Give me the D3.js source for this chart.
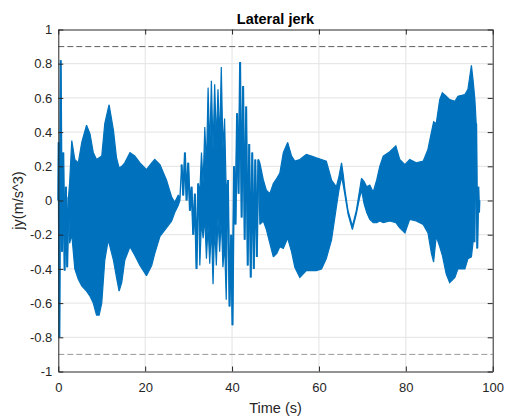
<!DOCTYPE html>
<html>
<head>
<meta charset="utf-8">
<script src="https://cdn.jsdelivr.net/npm/d3@7"></script>
<style>
  body { margin: 0; background: #fff; }
  text { font-family: "Liberation Sans", Arial, Helvetica, sans-serif; }
</style>
</head>
<body>
<svg id="chart" width="505" height="419"></svg>
<script>
// Lateral jerk trace, stored as its envelope over time.
// Where single swings can be told apart, jyMax and jyMin hold the same value
// and the band collapses to a line through those swing extremes.
const time = [
  0.00, 0.08, 0.25, 0.55, 0.85, 1.15, 1.45, 1.75, 2.05, 2.35,
  2.6, 3.1, 3.8, 4.6, 5.4, 6.5, 7.3, 8.05, 8.8, 9.4, 10.0, 10.7, 11.5, 11.7,
  12.7, 13.4, 14.0, 14.6, 15.3, 16.5, 17.6, 18.8, 20.3, 21.5, 22.2, 23.4,
  24.9, 26.1, 26.8, 27.6, 28.0,
  28.38, 28.76, 29.15, 29.53, 29.91, 30.30, 30.68, 31.06, 31.44, 31.82,
  32.20, 32.58, 32.96, 33.34, 33.72, 34.10, 34.48, 34.86, 35.24, 35.62,
  36.00, 36.38, 36.76, 37.14, 37.52, 37.90, 38.28, 38.66, 39.04, 39.42,
  39.80, 40.10, 40.45, 40.80, 41.15, 41.50, 41.85, 42.20, 42.55, 42.90,
  43.25, 43.60, 43.95, 44.30, 44.65, 45.00, 45.35, 45.70, 46.05,
  46.4, 47.2, 47.9, 48.7, 49.5, 50.3, 51.0, 51.8, 52.8, 53.7, 54.45, 55.6,
  57.1, 58.3, 59.4, 60.6, 61.7, 62.9, 64.0, 64.6, 65.2, 65.6, 66.0, 66.7,
  67.7, 68.6, 69.3, 69.8, 70.4, 71.0, 71.7, 72.5, 73.3, 74.0, 74.8, 76.3,
  77.7, 78.6, 79.8, 80.9, 82.4, 84.0, 85.1, 85.9, 86.4, 87.0, 87.8, 88.4,
  89.3, 90.1, 91.3, 92.0, 93.6, 94.3, 95.1, 95.5, 95.9,
  96.2, 96.45, 96.7, 96.85, 96.95
];
const jyMax = [
  0.00, 0.34, -0.80, 0.82, -0.30, 0.28, -0.41, 0.08, -0.39, 0.02,
  0.10, 0.35, 0.24, 0.22, 0.34, 0.44, 0.39, 0.28, 0.24, 0.25, 0.26, 0.45, 0.54, 0.56,
  0.41, 0.25, 0.19, 0.20, 0.22, 0.28, 0.26, 0.22, 0.18, 0.22, 0.24, 0.21,
  0.12, 0.02, -0.01, 0.03, 0.02,
  0.21, 0.03, 0.28, 0.00, 0.22, -0.06, 0.08, -0.20, 0.04, -0.40,
  0.10, 0.05, 0.28, 0.10, 0.43, 0.20, 0.66, 0.30, 0.70, 0.30,
  0.68, 0.35, 0.65, 0.35, 0.78, 0.30, 0.48, 0.05, 0.12, -0.62,
  -0.20, -0.73, 0.20, -0.14, 0.51, 0.04, 0.81, -0.10, 0.67, -0.23,
  0.55, -0.38, 0.33, -0.45, 0.28, -0.40, 0.24, -0.33, 0.24,
  0.22, 0.12, 0.06, 0.04, 0.10, 0.13, 0.16, 0.28, 0.34, 0.26, 0.23, 0.24,
  0.27, 0.26, 0.25, 0.24, 0.23, 0.12, 0.08, 0.14, 0.22, 0.15, 0.06, -0.06,
  -0.15, -0.06, 0.05, 0.13, 0.11, 0.08, 0.09, 0.05, 0.12, 0.20, 0.26, 0.285,
  0.32, 0.24, 0.21, 0.24, 0.22, 0.23, 0.30, 0.40, 0.46, 0.45, 0.59, 0.63,
  0.61, 0.59, 0.58, 0.61, 0.62, 0.65, 0.79, 0.70, 0.59,
  0.45, -0.28, 0.08, -0.07, 0.00
];
const jyMin = [
  0.00, 0.34, -0.80, 0.82, -0.30, 0.28, -0.41, 0.08, -0.39, 0.02,
  -0.25, -0.20, -0.40, -0.46, -0.50, -0.53, -0.56, -0.60, -0.67, -0.67, -0.60, -0.35, -0.23, -0.25,
  -0.35, -0.45, -0.53, -0.48, -0.35, -0.27, -0.32, -0.38, -0.44, -0.38, -0.31, -0.21,
  -0.16, -0.12, -0.07, -0.03, 0.00,
  0.21, 0.03, 0.28, 0.00, 0.22, -0.06, 0.08, -0.20, 0.04, -0.40,
  0.10, -0.38, -0.12, -0.22, -0.10, -0.34, -0.15, -0.37, -0.15, -0.49,
  -0.15, -0.38, -0.10, -0.30, -0.10, -0.39, -0.25, -0.58, 0.12, -0.62,
  -0.20, -0.73, 0.20, -0.14, 0.51, 0.04, 0.81, -0.10, 0.67, -0.23,
  0.55, -0.38, 0.33, -0.45, 0.28, -0.40, 0.24, -0.33, 0.24,
  -0.14, -0.12, -0.17, -0.25, -0.33, -0.31, -0.27, -0.28, -0.22, -0.30, -0.39, -0.45,
  -0.41, -0.41, -0.41, -0.40, -0.34, -0.23, -0.04, 0.06, 0.14, 0.09, 0.03, -0.08,
  -0.17, -0.08, 0.01, 0.06, -0.02, -0.07, -0.11, -0.13, -0.13, -0.12, -0.13, -0.12,
  -0.13, -0.16, -0.19, -0.11, -0.12, -0.14, -0.19, -0.31, -0.36, -0.21, -0.27, -0.32,
  -0.43, -0.48, -0.45, -0.40, -0.40, -0.34, -0.33, -0.24, -0.24,
  0.45, -0.28, 0.08, -0.07, 0.00
];

// Comfort limit drawn as dashed reference lines
const jerkLimit = [0.9, -0.9];

const xTicks = [0, 20, 40, 60, 80, 100];
const yTicks = [-1, -0.8, -0.6, -0.4, -0.2, 0, 0.2, 0.4, 0.6, 0.8, 1];

const svg = d3.select("#chart");
const plotLeft = 58.3, plotRight = 492.7, plotTop = 29.5, plotBottom = 371.5;

const x = d3.scaleLinear().domain([0, 100]).range([plotLeft, plotRight]);
const y = d3.scaleLinear().domain([-1, 1]).range([plotBottom, plotTop]);

const ink = "#262626";
const blue = "#0072BD";
const fmt = d => String(+d.toFixed(1));

// grid
const grid = svg.append("g").attr("stroke", "#e3e3e3").attr("stroke-width", 1);
grid.selectAll(".gx").data(xTicks.slice(1, -1)).join("line")
  .attr("x1", d => x(d)).attr("x2", d => x(d))
  .attr("y1", plotTop).attr("y2", plotBottom);
grid.selectAll(".gy").data(yTicks.slice(1, -1)).join("line")
  .attr("x1", plotLeft).attr("x2", plotRight)
  .attr("y1", d => y(d)).attr("y2", d => y(d));

// jerk trace: dense band
const pts = time.map((t, i) => ({ t, hi: jyMax[i], lo: jyMin[i] }));
const band = d3.area()
  .x(d => x(d.t))
  .y0(d => y(d.lo))
  .y1(d => y(d.hi))
  .curve(d3.curveLinear);
svg.append("path")
  .datum(pts)
  .attr("d", band)
  .attr("fill", blue)
  .attr("stroke", blue)
  .attr("stroke-width", 1.2)
  .attr("stroke-linejoin", "miter")
  .attr("stroke-miterlimit", 2);

// jerk trace: individually resolved swings drawn as a heavier line
const resolved = (d, i) => d.hi === d.lo &&
  ((i > 0 && pts[i - 1].hi === pts[i - 1].lo) || (i < pts.length - 1 && pts[i + 1].hi === pts[i + 1].lo));
const swingLine = d3.line()
  .defined(resolved)
  .x(d => x(d.t))
  .y(d => y(d.hi));
svg.append("path")
  .datum(pts)
  .attr("d", swingLine)
  .attr("fill", "none")
  .attr("stroke", blue)
  .attr("stroke-width", 2)
  .attr("stroke-linejoin", "miter")
  .attr("stroke-miterlimit", 3);

// limit lines
svg.append("g").selectAll("line").data(jerkLimit).join("line")
  .attr("x1", plotLeft).attr("x2", plotRight)
  .attr("y1", d => y(d)).attr("y2", d => y(d))
  .attr("stroke", (d, i) => i === 0 ? "#5e5e5e" : "#9a9a9a")
  .attr("stroke-width", 1)
  .attr("stroke-dasharray", "6,3");

// axes (ticks point inward, box closed on all sides)
const axB = svg.append("g").attr("transform", `translate(0,${plotBottom})`)
  .call(d3.axisBottom(x).tickValues(xTicks).tickFormat(fmt)
    .tickSizeInner(-5).tickSizeOuter(0).tickPadding(11));
const axT = svg.append("g").attr("transform", `translate(0,${plotTop})`)
  .call(d3.axisTop(x).tickValues(xTicks).tickFormat("")
    .tickSizeInner(-5).tickSizeOuter(0));
const axL = svg.append("g").attr("transform", `translate(${plotLeft},0)`)
  .call(d3.axisLeft(y).tickValues(yTicks).tickFormat(fmt)
    .tickSizeInner(-5).tickSizeOuter(0).tickPadding(6));
const axR = svg.append("g").attr("transform", `translate(${plotRight},0)`)
  .call(d3.axisRight(y).tickValues(yTicks).tickFormat("")
    .tickSizeInner(-5).tickSizeOuter(0));

[axB, axT, axL, axR].forEach(g => {
  g.select(".domain").attr("stroke", ink).attr("stroke-width", 1);
  g.selectAll(".tick line").attr("stroke", ink);
  g.selectAll(".tick text").attr("fill", ink).attr("font-size", 13)
    .attr("font-family", "'Liberation Sans', Arial, sans-serif");
});

// title and labels
svg.append("text")
  .attr("x", (plotLeft + plotRight) / 2).attr("y", 24)
  .attr("text-anchor", "middle")
  .attr("font-size", 14.5).attr("font-weight", "bold").attr("fill", "#000")
  .text("Lateral jerk");

svg.append("text")
  .attr("x", (plotLeft + plotRight) / 2).attr("y", 412.5)
  .attr("text-anchor", "middle")
  .attr("font-size", 14.5).attr("fill", ink)
  .text("Time (s)");

svg.append("text")
  .attr("transform", `translate(23,${(plotTop + plotBottom) / 2}) rotate(-90)`)
  .attr("text-anchor", "middle")
  .attr("font-size", 14.5).attr("fill", ink)
  .text("jy(m/s^3)");
</script>
</body>
</html>
